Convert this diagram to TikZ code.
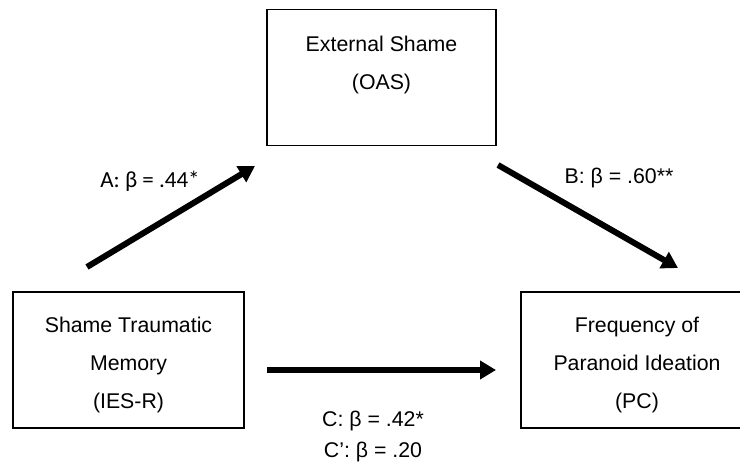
\documentclass[tikz,border=0pt]{standalone}
\usepackage{fontspec}
\setmainfont{Liberation Sans}
\newfontfamily\calfont{Carlito}
\usetikzlibrary{arrows.meta}
\begin{document}
\begin{tikzpicture}[x=1pt,y=-1pt,
  box/.style={draw=black, line width=1.6pt, minimum width=#1, minimum height=136pt, inner sep=0pt},
  txt/.style={align=center, inner sep=0pt, font=\fontsize{21.3}{38}\selectfont},
  lab/.style={inner sep=0pt, anchor=base, font=\fontsize{21.3}{26}\selectfont},
  arr/.style={line width=6pt, -{Triangle[length=16pt,width=18pt]}}
]
\useasboundingbox (0,0) rectangle (740,465);
\clip (0,0) rectangle (740,465);
\fill[white] (0,0) rectangle (740,465);

% boxes
\node[box=229pt] (ext) at (381.5,77.5) {};
\node[txt] (extT) at (381.5,64.5) {External Shame\\(OAS)};
\node[box=231pt] (stm) at (128.5,360) {};
\node[txt] (stmT) at (128.5,364.5) {Shame Traumatic\\Memory\\(IES-R)};
\node[box=232pt] (fpi) at (637,360) {};
\node[txt] (fpiT) at (637,364.5) {Frequency of\\Paranoid Ideation\\(PC)};

% arrow ends
\coordinate (a1) at (87,267);
\coordinate (a2) at (255,166);
\coordinate (b1) at (498,165);
\coordinate (b2) at (678,268);
\coordinate (c1) at (267,370);
\coordinate (c2) at (496,370);

\draw[arr] (a1) -- (a2);
\draw[arr] (b1) -- (b2);
\draw[arr] (c1) -- (c2);

% labels
\node[lab, font=\calfont\fontsize{23}{28}\selectfont] (la) at (150,187.4) {A: β = .44*};
\node[lab] (lb) at (619,184) {B: β = .60**};
\node[lab] (lc) at (373,426.6) {C: β = .42*};
\node[lab] (lc2) at (373,457.5) {C’: β = .20};
\end{tikzpicture}
\end{document}
